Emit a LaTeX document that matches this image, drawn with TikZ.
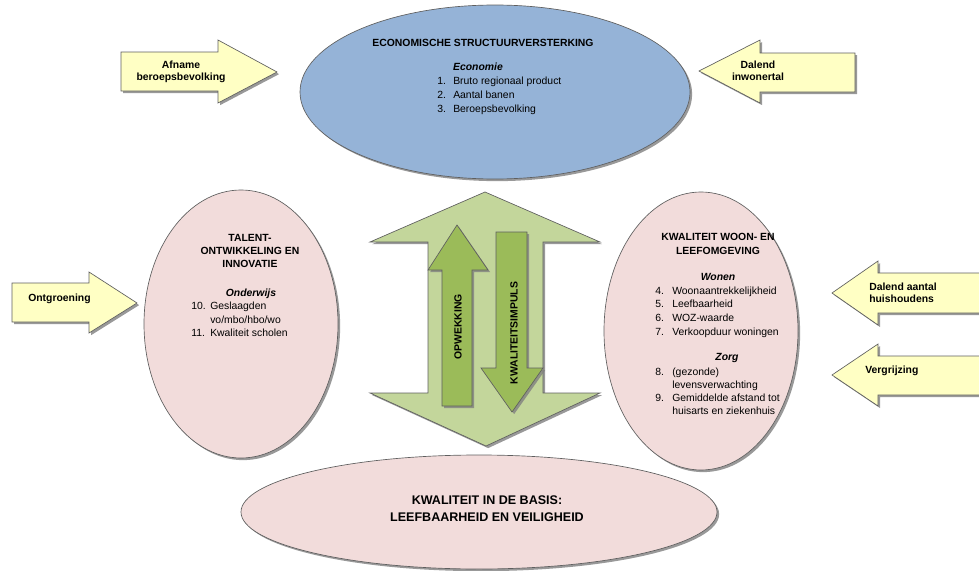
\documentclass[tikz,border=0pt]{standalone}
\usepackage{fontspec}
\setmainfont{Liberation Sans}
\usetikzlibrary{shadows}
\definecolor{econblue}{RGB}{149,179,215}
\definecolor{rosefill}{RGB}{242,220,219}
\definecolor{palegreen}{RGB}{195,214,155}
\definecolor{leafgreen}{RGB}{155,187,89}
\definecolor{paleyellow}{RGB}{255,255,196}
\definecolor{edgegray}{RGB}{95,95,95}

\begin{document}
\begin{tikzpicture}[x=0.75pt,y=0.75pt,yscale=-1,xscale=1,
  shapeline/.style={draw=edgegray, line width=0.5pt,
    drop shadow={shadow xshift=1.6pt, shadow yshift=-1.6pt, fill=black!50, opacity=0.8}},
  txt/.style={inner sep=0pt, font=\fontsize{7.8}{10}\selectfont},
  head/.style={txt, font=\fontsize{7.8}{10}\selectfont\bfseries},
  bighead/.style={inner sep=0pt, font=\fontsize{9.4}{12}\selectfont\bfseries},
  sub/.style={txt, font=\fontsize{7.8}{10}\selectfont\bfseries\itshape}
]
\useasboundingbox (0,0) rectangle (979,571);
\clip (0,0) rectangle (979,571);

%Shape: Ellipse top
\draw [shapeline, fill=econblue] (495,92) ellipse (195 and 87);
%Shape: Ellipse left
\draw [shapeline, fill=rosefill] (241,324) ellipse (97 and 134);
%Shape: Ellipse right
\draw [shapeline, fill=rosefill] (701,331) ellipse (97 and 139);
%Shape: Ellipse bottom
\draw [shapeline, fill=rosefill] (479,512) ellipse (238 and 57);

%Shape: big double arrow
\draw [shapeline, fill=palegreen] (485,192) -- (600,242) -- (543,242) -- (543,393) -- (600,393) -- (486,446) -- (370,393) -- (428,393) -- (428,242) -- (370,242) -- cycle ;
%Shape: arrow up
\draw [shapeline, fill=leafgreen] (457,225) -- (488,270) -- (472,270) -- (472,406) -- (442,406) -- (442,270) -- (428,270) -- cycle ;
%Shape: arrow down
\draw [shapeline, fill=leafgreen] (496,232) -- (527,232) -- (527,368) -- (543,368) -- (512,412) -- (481,368) -- (496,368) -- cycle ;

%Shape: yellow arrows
\draw [shapeline, fill=paleyellow] (121,52) -- (218,52) -- (218,40) -- (277,72) -- (218,103) -- (218,91) -- (121,91) -- cycle ;
\draw [shapeline, fill=paleyellow] (855,53) -- (760,53) -- (760,40) -- (699,71) -- (760,103) -- (760,92) -- (855,92) -- cycle ;
\draw [shapeline, fill=paleyellow] (12,283) -- (89,283) -- (89,272) -- (137,303) -- (89,333) -- (89,322) -- (12,322) -- cycle ;
\draw [shapeline, fill=paleyellow] (995,273) -- (878,273) -- (878,261) -- (832,293) -- (878,325) -- (878,313) -- (995,313) -- cycle ;
\draw [shapeline, fill=paleyellow] (995,356) -- (878,356) -- (878,344) -- (832,375) -- (878,406) -- (878,395) -- (995,395) -- cycle ;

% Text Node top
\node [head, anchor=base] (econtitle) at (483,46.5) {ECONOMISCHE STRUCTUURVERSTERKING};
\node [sub, anchor=base] (econsub) at (478,70.5) {Economie};
\node [txt, anchor=base west] (n1) at (437,84.5) {1.};
\node [txt, anchor=base west] (i1) at (453,84.5) {Bruto regionaal product};
\node [txt, anchor=base west] (n2) at (437,98) {2.};
\node [txt, anchor=base west] (i2) at (453,98) {Aantal banen};
\node [txt, anchor=base west] (n3) at (437,112) {3.};
\node [txt, anchor=base west] (i3) at (453,112) {Beroepsbevolking};

% Text Node left
\node [head, anchor=base] (talent1) at (250,241.5) {TALENT-};
\node [head, anchor=base] (talent2) at (250,254.5) {ONTWIKKELING EN};
\node [head, anchor=base] (talent3) at (250,267.5) {INNOVATIE};
\node [sub, anchor=base] (talentsub) at (251,296.5) {Onderwijs};
\node [txt, anchor=base west] (n10) at (191,309.5) {10.};
\node [txt, anchor=base west] (i10) at (210,309.5) {Geslaagden};
\node [txt, anchor=base west] (i10b) at (210,323) {vo/mbo/hbo/wo};
\node [txt, anchor=base west] (n11) at (191,336.5) {11.};
\node [txt, anchor=base west] (i11) at (210,336.5) {Kwaliteit scholen};

% Text Node right
\node [head, anchor=base] (woon1) at (718,240.5) {KWALITEIT WOON- EN};
\node [head, anchor=base] (woon2) at (718,254.5) {LEEFOMGEVING};
\node [sub, anchor=base] (woonsub) at (718,280.5) {Wonen};
\node [txt, anchor=base west] (n4) at (655,294) {4.};
\node [txt, anchor=base west] (i4) at (672,294) {Woonaantrekkelijkheid};
\node [txt, anchor=base west] (n5) at (655,307.5) {5.};
\node [txt, anchor=base west] (i5) at (672,307.5) {Leefbaarheid};
\node [txt, anchor=base west] (n6) at (655,321) {6.};
\node [txt, anchor=base west] (i6) at (672,321) {WOZ-waarde};
\node [txt, anchor=base west] (n7) at (655,335) {7.};
\node [txt, anchor=base west] (i7) at (672,335) {Verkoopduur woningen};
\node [sub, anchor=base] (zorgsub) at (727,360.5) {Zorg};
\node [txt, anchor=base west] (n8) at (655,375.5) {8.};
\node [txt, anchor=base west] (i8) at (672,375.5) {(gezonde)};
\node [txt, anchor=base west] (i8b) at (672,388.5) {levensverwachting};
\node [txt, anchor=base west] (n9) at (655,401.5) {9.};
\node [txt, anchor=base west] (i9) at (672,401.5) {Gemiddelde afstand tot};
\node [txt, anchor=base west] (i9b) at (672,414.5) {huisarts en ziekenhuis};

% Text Node bottom
\node [bighead, anchor=base] (basis1) at (487,504.5) {KWALITEIT IN DE BASIS:};
\node [bighead, anchor=base] (basis2) at (487,521.5) {LEEFBAARHEID EN VEILIGHEID};

% Text Node arrows
\node [head, rotate=90] (opw) at (458,327) {OPWEKKING};
\node [head, rotate=90] (kwal) at (514,333) {KWALITEITSIMPULS};
\node [head, anchor=base] (afn1) at (181,68.5) {Afname};
\node [head, anchor=base] (afn2) at (181,80.5) {beroepsbevolking};
\node [head, anchor=base] (inw1) at (758,68.5) {Dalend};
\node [head, anchor=base] (inw2) at (758,80.5) {inwonertal};
\node [head, anchor=base west] (ontg) at (28,301.5) {Ontgroening};
\node [head, anchor=base west] (huis1) at (869,290.5) {Dalend aantal};
\node [head, anchor=base west] (huis2) at (869,302.5) {huishoudens};
\node [head, anchor=base west] (vergr) at (865,373.5) {Vergrijzing};

\end{tikzpicture}
\end{document}
